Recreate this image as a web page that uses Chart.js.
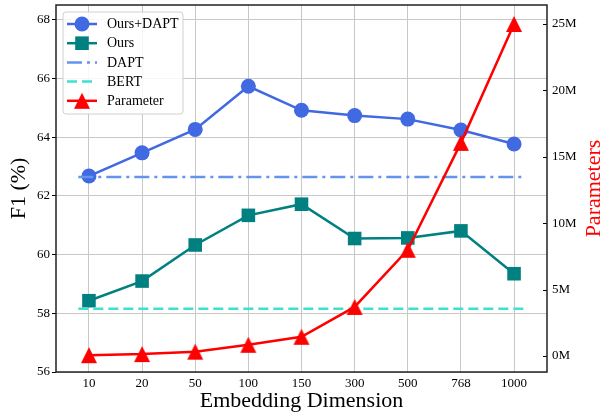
<!DOCTYPE html>
<html><head><meta charset="utf-8">
<script src="https://cdn.jsdelivr.net/npm/chart.js@4.4.0/dist/chart.umd.min.js"></script>
<style>html,body{margin:0;padding:0;background:#fff}canvas{display:block}</style>
</head><body>
<canvas id="c" width="603" height="412"></canvas>
<script>
// ---- data ----
const categories = ['10','20','50','100','150','300','500','768','1000'];
const oursDapt   = [62.68, 63.47, 64.27, 65.74, 64.92, 64.74, 64.62, 64.25, 63.77];
const ours       = [58.43, 59.10, 60.33, 61.34, 61.72, 60.55, 60.57, 60.81, 59.35];
const daptBaseline = 62.65;
const bertBaseline = 58.16;
const parameters = [0.07, 0.15, 0.33, 0.85, 1.45, 3.7, 8.0, 16.05, 25.0]; // millions
const f1Ticks    = [56, 58, 60, 62, 64, 66, 68];
const paramTicks = [0, 5, 10, 15, 20, 25];

// ---- styling ----
const SERIF = "'Liberation Serif', 'Times New Roman', serif";
const C_OD = '#4169E1', C_O = '#008080', C_DAPT = '#6495ED', C_BERT = '#40E0D0', C_P = '#FF0000';
const GRID = '#c8c8c8';

function triangleStyle(color){
  const c = document.createElement('canvas'); c.width = 18; c.height = 18;
  const g = c.getContext('2d'); g.fillStyle = color;
  g.beginPath(); g.moveTo(9,1); g.lineTo(17,17); g.lineTo(1,17); g.closePath(); g.fill();
  return c;
}
const triStyle = triangleStyle(C_P);

const pts  = vals => vals.map((v,i) => ({x:i, y:v}));
const span = v => [{x:-0.2, y:v}, {x:categories.length - 1 + 0.2, y:v}];

const legendItems = [
  {label:'Ours+DAPT', color:C_OD, dash:[], marker:'circle'},
  {label:'Ours', color:C_O, dash:[], marker:'square'},
  {label:'DAPT', color:C_DAPT, dash:[15,5,3,5], marker:null},
  {label:'BERT', color:C_BERT, dash:[10,5], marker:null},
  {label:'Parameter', color:C_P, dash:[], marker:'triangle'}
];

const decor = {
  id:'decor',
  afterDraw(chart){
    const ctx = chart.ctx, a = chart.chartArea, y1 = chart.scales.y1;
    ctx.save();
    // right axis inward ticks
    ctx.strokeStyle = '#000'; ctx.lineWidth = 1;
    paramTicks.forEach(v => {
      const y = Math.round(y1.getPixelForValue(v)) + 0.5;
      ctx.beginPath(); ctx.moveTo(a.right - 4, y); ctx.lineTo(a.right, y); ctx.stroke();
    });
    // frame
    ctx.strokeStyle = '#222'; ctx.lineWidth = 1.5;
    ctx.strokeRect(a.left, a.top, a.right - a.left, a.bottom - a.top);
    // right axis title
    ctx.save();
    ctx.translate(594, (a.top + a.bottom) / 2);
    ctx.rotate(-Math.PI / 2);
    ctx.fillStyle = C_P; ctx.font = '22px ' + SERIF;
    ctx.textAlign = 'center'; ctx.textBaseline = 'middle';
    ctx.fillText('Parameters', 0, 0);
    ctx.restore();
    // legend
    const bx = 63, by = 12, bw = 120, bh = 102, r = 3;
    ctx.beginPath();
    ctx.moveTo(bx + r, by); ctx.lineTo(bx + bw - r, by); ctx.quadraticCurveTo(bx + bw, by, bx + bw, by + r);
    ctx.lineTo(bx + bw, by + bh - r); ctx.quadraticCurveTo(bx + bw, by + bh, bx + bw - r, by + bh);
    ctx.lineTo(bx + r, by + bh); ctx.quadraticCurveTo(bx, by + bh, bx, by + bh - r);
    ctx.lineTo(bx, by + r); ctx.quadraticCurveTo(bx, by, bx + r, by); ctx.closePath();
    ctx.fillStyle = 'rgba(255,255,255,0.85)'; ctx.fill();
    ctx.strokeStyle = '#d0d0d0'; ctx.lineWidth = 1; ctx.stroke();
    legendItems.forEach((it, i) => {
      const y = 24 + i * 19.2;
      ctx.strokeStyle = it.color; ctx.lineWidth = 2.5; ctx.setLineDash(it.dash);
      ctx.beginPath(); ctx.moveTo(67, y); ctx.lineTo(97, y); ctx.stroke();
      ctx.setLineDash([]);
      ctx.fillStyle = it.color;
      if (it.marker === 'circle') { ctx.beginPath(); ctx.arc(82, y, 7.5, 0, Math.PI * 2); ctx.fill(); }
      else if (it.marker === 'square') { ctx.fillRect(82 - 6.8, y - 6.8, 13.6, 13.6); }
      else if (it.marker === 'triangle') { ctx.drawImage(triStyle, 82 - 9, y - 9); }
      ctx.fillStyle = '#000'; ctx.font = '14px ' + SERIF;
      ctx.textAlign = 'left'; ctx.textBaseline = 'middle';
      ctx.fillText(it.label, 107, y + 0.5);
    });
    ctx.restore();
  }
};

const tickFont = {family:SERIF, size:13};
const titleFont = {family:SERIF, size:22};
const noVPad = s => { s.paddingTop = 0; s.paddingBottom = 0; };
const noHPad = s => { s.paddingLeft = 0; s.paddingRight = 0; };

new Chart(document.getElementById('c'), {
  type:'line',
  data:{
    datasets:[
      {label:'Ours+DAPT', data:pts(oursDapt), yAxisID:'y', borderColor:C_OD, backgroundColor:C_OD,
       borderWidth:2.5, pointStyle:'circle', pointRadius:7.5, pointBorderWidth:0, order:4},
      {label:'Ours', data:pts(ours), yAxisID:'y', borderColor:C_O, backgroundColor:C_O,
       borderWidth:2.5, pointStyle:'rect', pointRadius:9.6, pointBorderWidth:0, order:3},
      {label:'DAPT', data:span(daptBaseline), yAxisID:'y', borderColor:C_DAPT, borderWidth:2.5,
       borderDash:[15,5,3,5], pointRadius:0, order:2},
      {label:'BERT', data:span(bertBaseline), yAxisID:'y', borderColor:C_BERT, borderWidth:2.5,
       borderDash:[10,5], pointRadius:0, order:1},
      {label:'Parameter', data:pts(parameters), yAxisID:'y1', borderColor:C_P, backgroundColor:C_P,
       borderWidth:2.5, pointStyle:triStyle, pointRadius:9, pointBorderWidth:0, order:0}
    ]
  },
  options:{
    responsive:false, animation:false, devicePixelRatio:1,
    layout:{autoPadding:false, padding:{top:5, left:0, right:0, bottom:0}},
    elements:{line:{tension:0}},
    plugins:{legend:{display:false}, tooltip:{enabled:false}},
    scales:{
      x:{
        type:'linear', min:-0.62, max:categories.length - 1 + 0.62,
        afterBuildTicks:s => { s.ticks = categories.map((_, i) => ({value:i})); },
        ticks:{callback:(v, i) => categories[i], font:tickFont, color:'#000', padding:4, autoSkip:false, maxRotation:0},
        grid:{color:GRID, lineWidth:1, drawTicks:false},
        border:{display:false},
        title:{display:true, text:'Embedding Dimension', font:titleFont, color:'#000', padding:{top:0, bottom:-2}},
        afterFit:s => { s.height = 40; noHPad(s); }
      },
      y:{
        position:'left', min:56, max:68.51,
        afterBuildTicks:s => { s.ticks = f1Ticks.map(v => ({value:v})); },
        ticks:{font:tickFont, color:'#000', padding:2},
        grid:{color:GRID, lineWidth:1, tickLength:4, tickColor:'#000', tickWidth:1},
        border:{display:false},
        title:{display:true, text:'F1 (%)', font:titleFont, color:'#000', padding:{top:6, bottom:0}},
        afterFit:s => { s.width = 56; noVPad(s); }
      },
      y1:{
        position:'right', min:-1.2, max:26.43,
        afterBuildTicks:s => { s.ticks = paramTicks.map(v => ({value:v})); },
        ticks:{font:tickFont, color:'#000', padding:5, callback:v => v + 'M'},
        grid:{drawOnChartArea:false, drawTicks:false},
        border:{display:false},
        afterFit:s => { s.width = 56; noVPad(s); }
      }
    }
  },
  plugins:[decor]
});
</script>
</body></html>
